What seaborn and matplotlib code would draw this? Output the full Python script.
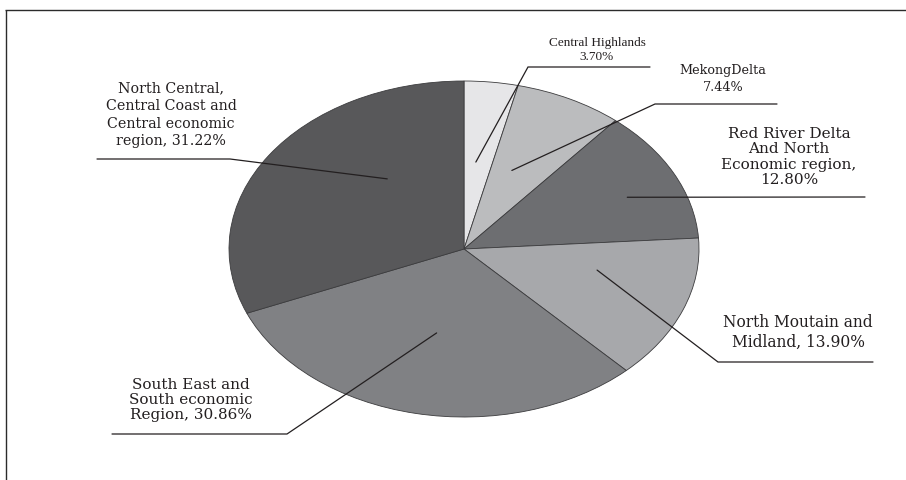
import numpy as np
import matplotlib
matplotlib.use("Agg")
import matplotlib.pyplot as plt
import seaborn as sns

# ---- data ----
regions = [
    "Central Highlands",
    "MekongDelta",
    "Red River Delta And North Economic region",
    "North Moutain and Midland",
    "South East and South economic Region",
    "North Central, Central Coast and Central economic region",
]
shares = [3.70, 7.44, 12.80, 13.90, 30.86, 31.22]
label_texts = [
    "Central Highlands\n3.70%",
    "MekongDelta\n7.44%",
    "Red River Delta\nAnd North\nEconomic region,\n12.80%",
    "North Moutain and\nMidland, 13.90%",
    "South East and\nSouth economic\nRegion, 30.86%",
    "North Central,\nCentral Coast and\nCentral economic\nregion, 31.22%",
]
slice_colors = ["#e6e6e8", "#bbbcbe", "#6d6e71", "#a7a8ab", "#808184", "#58585a"]

# ---- layout (pixels) ----
W, H = 906, 481
cx, cy, a, b = 464, 250, 235, 168
layout = [
    dict(tx=597, ty=50, path=[(528, 68), (650, 68)], dang=1.1, r=0.52,
         font="Liberation Serif", size=9.5, ls=1.3),
    dict(tx=723, ty=79, path=[(655, 105), (777, 105)], dang=3.2, r=0.51,
         font="DejaVu Serif", size=9.2, ls=1.32),
    dict(tx=789, ty=157, path=[(865, 198)], dang=-2.9, r=0.76,
         font="DejaVu Serif", size=11.0, ls=1.14),
    dict(tx=798, ty=332, path=[(718, 363), (873, 363)], dang=8.8, r=0.58,
         font="DejaVu Serif", size=11.2, ls=1.22),
    dict(tx=191, ty=400, path=[(287, 435), (112, 435)], dang=-1.2, r=0.513,
         font="DejaVu Serif", size=11.0, ls=1.13),
    dict(tx=171, ty=115, path=[(230, 160), (97, 160)], dang=-18.2, r=0.53,
         font="DejaVu Serif", size=10.3, ls=1.33),
]

sns.set_theme(style="white")
palette = sns.color_palette(slice_colors)

fig = plt.figure(figsize=(W / 100, H / 100), dpi=100)
fig.patch.set_facecolor("white")

# pie axes mapped so that the unit circle becomes the ellipse
pad = 1.02
pax = fig.add_axes([(cx - a * pad) / W, 1 - (cy + b * pad) / H,
                    2 * a * pad / W, 2 * b * pad / H])
wedges, _ = pax.pie(shares, colors=palette, startangle=90, counterclock=False,
                    radius=1,
                    wedgeprops=dict(edgecolor="#3c3c3e", linewidth=0.6))
pax.set_xlim(-pad, pad)
pax.set_ylim(-pad, pad)
pax.set_aspect("auto")
pax.axis("off")

# overlay in pixel coordinates
ov = fig.add_axes([0, 0, 1, 1], zorder=5)
ov.set_xlim(0, W)
ov.set_ylim(H, 0)
ov.axis("off")
ov.patch.set_alpha(0)

# frame lines (top and left)
ov.plot([5, W], [10.5, 10.5], color="#2b2b2b", lw=1.0, solid_capstyle="butt")
ov.plot([5.5, 5.5], [10.5, H], color="#2b2b2b", lw=1.0, solid_capstyle="butt")

total = sum(shares)
cum = 0.0
for val, txt, lay in zip(shares, label_texts, layout):
    mid = 90 - 360 * (cum + val / 2) / total + lay["dang"]
    cum += val
    th = np.deg2rad(mid)
    ax_x = cx + a * lay["r"] * np.cos(th)
    ax_y = cy - b * lay["r"] * np.sin(th)
    xs = [ax_x] + [p[0] for p in lay["path"]]
    ys = [ax_y] + [p[1] for p in lay["path"]]
    ov.plot(xs, ys, color="#231f20", lw=0.9, solid_joinstyle="miter")
    ov.text(lay["tx"], lay["ty"], txt, ha="center", va="center",
            multialignment="center", fontsize=lay["size"],
            family=lay["font"], color="#231f20", linespacing=lay["ls"])

fig.savefig("out.png", dpi=100, facecolor="white")
